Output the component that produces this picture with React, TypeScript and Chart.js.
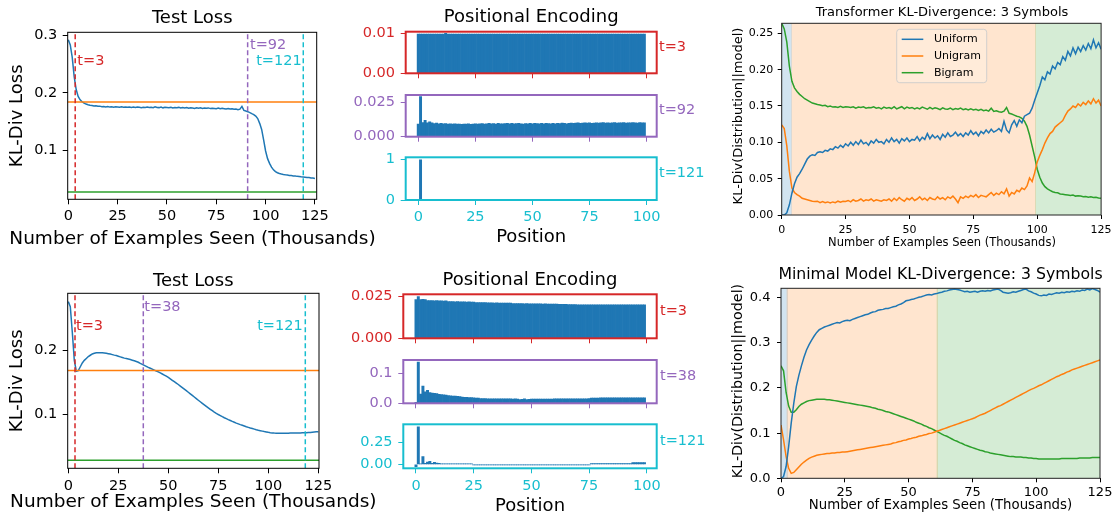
import React, { useEffect, useRef } from "react";
import { Chart, registerables } from "chart.js";

Chart.register(...registerables);

const W = 1116;
const H = 520;
const FONT = '"DejaVu Sans", "Liberation Sans", sans-serif';
const BLUE = "#1f77b4";
const ORANGE = "#ff7f0e";
const GREEN = "#2ca02c";
const RED = "#d62728";
const PURPLE = "#9467bd";
const CYAN = "#17becf";

// ---------------- data ----------------
const examplesSeen = Array.from({ length: 126 }, (_, i) => i); // thousands
const positions = Array.from({ length: 100 }, (_, i) => i);

const xTicksExamples = [0, 25, 50, 75, 100, 125];
const xLabelsExamples = ["0", "25", "50", "75", "100", "125"];
const xTicksPosition = [0, 25, 50, 75, 100];
const xLabelsPosition = ["0", "25", "50", "75", "100"];

// Transformer test loss (top row)
const testLossTransformer = [
  0.293, 0.284, 0.262, 0.228, 0.206, 0.194, 0.188, 0.1845, 0.182, 0.1805,
  0.1793, 0.1785, 0.178, 0.1772, 0.1775, 0.1766, 0.1769, 0.176, 0.1764, 0.1756,
  0.1761, 0.1752, 0.1758, 0.175, 0.1756, 0.1753, 0.1749, 0.1757, 0.1751, 0.1754,
  0.1748, 0.1755, 0.1747, 0.1752, 0.1745, 0.1754, 0.1749, 0.1742, 0.1751, 0.1746,
  0.1753, 0.1744, 0.175, 0.1741, 0.1758, 0.1746, 0.1743, 0.1752, 0.1739, 0.1748,
  0.1744, 0.174, 0.1749, 0.1736, 0.1745, 0.1741, 0.1747, 0.1735, 0.1744, 0.1738,
  0.1746, 0.1733, 0.1741, 0.1737, 0.173, 0.1742, 0.1734, 0.1739, 0.1728, 0.1736,
  0.1731, 0.1738, 0.1726, 0.1733, 0.1729, 0.1724, 0.1735, 0.1722, 0.173, 0.1725,
  0.1719, 0.1727, 0.1718, 0.1722, 0.1713, 0.1719, 0.1708, 0.1716, 0.1765, 0.1695,
  0.1683, 0.1672, 0.1655, 0.1638, 0.1622, 0.1595, 0.1552, 0.1468, 0.1362, 0.118,
  0.0985, 0.0851, 0.0768, 0.0702, 0.0655, 0.0624, 0.0604, 0.0591, 0.0582, 0.0575,
  0.0569, 0.0565, 0.0558, 0.0556, 0.0549, 0.0547, 0.0541, 0.0539, 0.0533, 0.053,
  0.0527, 0.0522, 0.052, 0.0514, 0.0511, 0.0505,
];
const refLossTransformer = [0.184, 0.0266]; // unigram, bigram
const snapshotXTransformer = [3.5, 90.9, 119.1];
const snapshotLabelsTransformer = ["t=3", "t=92", "t=121"];

// Minimal model test loss (bottom row)
const testLossMinimal = [
  0.276, 0.268, 0.228, 0.184, 0.167, 0.168, 0.174, 0.18, 0.184, 0.187,
  0.19, 0.192, 0.194, 0.195, 0.196, 0.196, 0.196, 0.1958, 0.1955, 0.195,
  0.1945, 0.1938, 0.193, 0.1922, 0.1915, 0.1905, 0.1895, 0.1885, 0.1875, 0.1868,
  0.186, 0.1852, 0.1843, 0.1833, 0.1822, 0.181, 0.1792, 0.1778, 0.1762, 0.1746,
  0.173, 0.1716, 0.1702, 0.1688, 0.1674, 0.1659, 0.1643, 0.1627, 0.161, 0.1592,
  0.1572, 0.155, 0.1528, 0.1506, 0.1484, 0.1462, 0.1438, 0.1414, 0.139, 0.1366,
  0.1341, 0.1316, 0.1291, 0.1266, 0.1241, 0.1216, 0.1192, 0.1168, 0.1144, 0.112,
  0.1097, 0.1074, 0.1052, 0.1031, 0.1011, 0.0992, 0.0975, 0.0958, 0.0942, 0.0927,
  0.0912, 0.0898, 0.0884, 0.0871, 0.0858, 0.0846, 0.0834, 0.0823, 0.0812, 0.0801,
  0.0791, 0.0781, 0.0772, 0.0763, 0.0754, 0.0746, 0.0739, 0.0732, 0.0725, 0.0719,
  0.0713, 0.0708, 0.0704, 0.0701, 0.0699, 0.0698, 0.0698, 0.0698, 0.0699, 0.07,
  0.07, 0.0701, 0.0701, 0.0702, 0.0703, 0.0703, 0.0704, 0.0705, 0.0706, 0.0708,
  0.071, 0.0712, 0.0715, 0.0718, 0.0721, 0.0724,
];
const refLossMinimal = [0.168, 0.0277];
const snapshotXMinimal = [3.35, 37.5, 118.5];
const snapshotLabelsMinimal = ["t=3", "t=38", "t=121"];

// Positional encodings, transformer (top row)
const peTransformerT3 = [
  0.0099, 0.0099, 0.0099, 0.0099, 0.0099, 0.0099, 0.0099, 0.0099, 0.0099, 0.0099,
  0.0099, 0.0099, 0.0101, 0.0099, 0.0099, 0.0099, 0.0099, 0.0099, 0.0099, 0.0099,
  0.0099, 0.0099, 0.0099, 0.0099, 0.0099, 0.0099, 0.0099, 0.0099, 0.0099, 0.0099,
  0.0099, 0.0099, 0.0099, 0.0099, 0.0099, 0.0099, 0.0099, 0.0099, 0.0099, 0.0099,
  0.0099, 0.0099, 0.0099, 0.0099, 0.0099, 0.0099, 0.0099, 0.0099, 0.0099, 0.0099,
  0.0099, 0.0099, 0.0099, 0.0099, 0.0099, 0.0099, 0.0099, 0.0099, 0.0099, 0.0099,
  0.0099, 0.0099, 0.0099, 0.0099, 0.0099, 0.0099, 0.0099, 0.0099, 0.0099, 0.0099,
  0.0099, 0.0099, 0.0099, 0.0099, 0.0099, 0.0099, 0.0099, 0.0099, 0.0099, 0.0099,
  0.0099, 0.0099, 0.0099, 0.0099, 0.0099, 0.0099, 0.0099, 0.0099, 0.0099, 0.0099,
  0.0099, 0.0099, 0.0099, 0.0099, 0.0099, 0.0099, 0.0099, 0.0099, 0.0099, 0.0099,
];
const peTransformerT92 = [
  0.0091, 0.0291, 0.0103, 0.0119, 0.0101, 0.0107, 0.01, 0.0095, 0.0099, 0.0094,
  0.0096, 0.0093, 0.0095, 0.0092, 0.0094, 0.0091, 0.0093, 0.0091, 0.0092, 0.009,
  0.0092, 0.0091, 0.0093, 0.009, 0.0092, 0.0094, 0.0091, 0.0093, 0.0095, 0.0092,
  0.0094, 0.0096, 0.0093, 0.0095, 0.0092, 0.0096, 0.0094, 0.0093, 0.0095, 0.0097,
  0.0094, 0.0096, 0.0093, 0.0095, 0.0097, 0.0094, 0.0092, 0.0095, 0.0093, 0.0096,
  0.0094, 0.0096, 0.0095, 0.0093, 0.0096, 0.0094, 0.0097, 0.0095, 0.0093, 0.0096,
  0.0094, 0.0097, 0.0095, 0.0098, 0.0096, 0.0094, 0.0097, 0.0099, 0.0096, 0.0098,
  0.01, 0.0097, 0.0099, 0.0101, 0.0098, 0.01, 0.0097, 0.0099, 0.0101, 0.0098,
  0.01, 0.0102, 0.0099, 0.0101, 0.0098, 0.01, 0.0102, 0.0099, 0.0101, 0.01,
  0.0102, 0.0099, 0.0101, 0.01, 0.0103, 0.0101, 0.0099, 0.0102, 0.01, 0.0101,
];
const peTransformerT121 = [
  0.0003, 0.995, 0.0004, 0.0003, 0.0003, 0.0003, 0.0003, 0.0003, 0.0003, 0.0003,
  0.0003, 0.0003, 0.0003, 0.0003, 0.0003, 0.0003, 0.0003, 0.0003, 0.0003, 0.0003,
  0.0003, 0.0003, 0.0003, 0.0003, 0.0003, 0.0003, 0.0003, 0.0003, 0.0003, 0.0003,
  0.0003, 0.0003, 0.0003, 0.0003, 0.0003, 0.0003, 0.0003, 0.0003, 0.0003, 0.0003,
  0.0003, 0.0003, 0.0003, 0.0003, 0.0003, 0.0003, 0.0003, 0.0003, 0.0003, 0.0003,
  0.0003, 0.0003, 0.0003, 0.0003, 0.0003, 0.0003, 0.0003, 0.0003, 0.0003, 0.0003,
  0.0003, 0.0003, 0.0003, 0.0003, 0.0003, 0.0003, 0.0003, 0.0003, 0.0003, 0.0003,
  0.0003, 0.0003, 0.0003, 0.0003, 0.0003, 0.0003, 0.0003, 0.0003, 0.0003, 0.0003,
  0.0003, 0.0003, 0.0003, 0.0003, 0.0003, 0.0003, 0.0003, 0.0003, 0.0003, 0.0003,
  0.0003, 0.0003, 0.0003, 0.0003, 0.0003, 0.0003, 0.0003, 0.0003, 0.0003, 0.0003,
];

// Positional encodings, minimal model (bottom row)
const peMinimalT3 = [
  0.023, 0.0248, 0.0231, 0.0232, 0.023, 0.0225, 0.0224, 0.0224, 0.0223, 0.0224,
  0.0223, 0.0223, 0.0222, 0.0223, 0.0219, 0.0218, 0.0218, 0.0217, 0.0218, 0.0217,
  0.0217, 0.0217, 0.0216, 0.0217, 0.0216, 0.0216, 0.0213, 0.0212, 0.0212, 0.0212,
  0.0212, 0.0211, 0.0211, 0.0211, 0.021, 0.0211, 0.021, 0.021, 0.021, 0.021,
  0.0209, 0.0209, 0.0207, 0.0206, 0.0206, 0.0206, 0.0206, 0.0205, 0.0206, 0.0205,
  0.0205, 0.0205, 0.0205, 0.0205, 0.0205, 0.0204, 0.0205, 0.0204, 0.0204, 0.0204,
  0.0204, 0.0204, 0.0203, 0.0203, 0.0203, 0.0203, 0.0201, 0.0201, 0.0201, 0.0201,
  0.02, 0.02, 0.02, 0.02, 0.02, 0.02, 0.02, 0.02, 0.02, 0.02,
  0.02, 0.02, 0.02, 0.02, 0.02, 0.02, 0.02, 0.02, 0.02, 0.02,
  0.02, 0.02, 0.02, 0.02, 0.02, 0.02, 0.02, 0.02, 0.02, 0.02,
];
const peMinimalT38 = [
  0.003, 0.137, 0.031, 0.057, 0.038, 0.043, 0.036, 0.034, 0.033, 0.032,
  0.03, 0.029, 0.028, 0.027, 0.026, 0.025, 0.024, 0.024, 0.023, 0.022,
  0.021, 0.02, 0.02, 0.019, 0.019, 0.018, 0.017, 0.017, 0.016, 0.016,
  0.016, 0.015, 0.015, 0.015, 0.015, 0.015, 0.015, 0.015, 0.015, 0.015,
  0.015, 0.015, 0.014, 0.015, 0.014, 0.012, 0.013, 0.015, 0.012, 0.013,
  0.014, 0.014, 0.014, 0.014, 0.014, 0.014, 0.014, 0.014, 0.014, 0.014,
  0.015, 0.015, 0.015, 0.015, 0.015, 0.015, 0.015, 0.015, 0.015, 0.015,
  0.015, 0.015, 0.015, 0.015, 0.015, 0.016, 0.017, 0.017, 0.017, 0.017,
  0.018, 0.018, 0.018, 0.018, 0.018, 0.018, 0.018, 0.018, 0.018, 0.018,
  0.018, 0.018, 0.018, 0.018, 0.018, 0.018, 0.018, 0.018, 0.018, 0.018,
];
const peMinimalT121 = [
  -0.027, 0.427, 0.006, 0.088, 0.012, 0.025, 0.035, 0.012, 0.024, 0.014,
  0.011, 0.004, 0.004, 0.004, 0.004, 0.004, 0.004, 0.004, 0.004, 0.004,
  0.004, 0.004, 0.004, 0.004, 0.004, -0.006, -0.006, -0.006, -0.006, -0.006,
  -0.006, -0.006, -0.006, -0.006, -0.006, -0.006, -0.006, -0.006, -0.006, -0.006,
  -0.006, -0.006, -0.006, -0.006, -0.006, -0.006, -0.006, -0.006, -0.006, -0.006,
  -0.006, -0.006, -0.006, -0.006, -0.006, -0.006, -0.006, -0.006, -0.006, -0.006,
  -0.006, -0.006, -0.006, -0.006, -0.006, -0.006, -0.006, -0.006, -0.006, -0.006,
  -0.006, -0.006, -0.006, -0.006, -0.006, -0.006, 0.01, 0.01, 0.01, 0.01,
  0.01, 0.01, 0.01, 0.01, 0.01, 0.01, 0.01, 0.01, 0.01, 0.01,
  0.01, 0.01, 0.01, 0.01, 0.02, 0.02, 0.02, 0.02, 0.02, 0.02,
];

// KL divergences, transformer (top right)
const uniformTransformer = [
  0.0, 0.0, 0.003, 0.014, 0.03, 0.043, 0.052, 0.057, 0.063, 0.07,
  0.077, 0.081, 0.083, 0.082, 0.086, 0.087, 0.086, 0.089, 0.088, 0.091,
  0.09, 0.094, 0.092, 0.096, 0.093, 0.098, 0.095, 0.1, 0.096, 0.101,
  0.097, 0.103, 0.098, 0.1, 0.096, 0.102, 0.099, 0.104, 0.1, 0.101,
  0.098, 0.104, 0.1, 0.106, 0.101, 0.104, 0.099, 0.105, 0.102, 0.106,
  0.101, 0.104, 0.103, 0.108, 0.102, 0.107, 0.104, 0.112, 0.105, 0.11,
  0.106, 0.109, 0.104, 0.111, 0.107, 0.113, 0.108, 0.11, 0.114, 0.109,
  0.112, 0.108, 0.113, 0.11, 0.116, 0.111, 0.114, 0.109, 0.115, 0.112,
  0.117, 0.113, 0.118, 0.114, 0.116, 0.119, 0.115, 0.129, 0.117, 0.113,
  0.124, 0.13, 0.122, 0.131, 0.127, 0.136, 0.138, 0.14, 0.147, 0.158,
  0.168, 0.178, 0.19, 0.186, 0.197, 0.194, 0.205, 0.201, 0.21, 0.207,
  0.218, 0.213, 0.225, 0.219, 0.23, 0.222, 0.231, 0.225, 0.233, 0.227,
  0.236, 0.229, 0.241, 0.23, 0.237, 0.228,
];
const unigramTransformer = [
  0.124, 0.119, 0.095, 0.06, 0.037, 0.031, 0.028, 0.026, 0.023, 0.022,
  0.021, 0.02, 0.019, 0.0185, 0.019, 0.017, 0.0185, 0.017, 0.018, 0.0165,
  0.018, 0.017, 0.019, 0.0175, 0.019, 0.0185, 0.02, 0.018, 0.021, 0.019,
  0.02, 0.022, 0.019, 0.021, 0.02, 0.022, 0.019, 0.021, 0.02, 0.019,
  0.021, 0.02, 0.022, 0.019, 0.023, 0.02, 0.024, 0.021, 0.019, 0.023,
  0.021, 0.024, 0.02, 0.022, 0.025, 0.021, 0.023, 0.02, 0.024, 0.022,
  0.021, 0.025, 0.022, 0.024, 0.021, 0.025, 0.023, 0.026, 0.022, 0.017,
  0.025, 0.023, 0.026, 0.024, 0.027, 0.025, 0.028, 0.024, 0.027, 0.026,
  0.025, 0.028, 0.031, 0.027, 0.03, 0.028, 0.032, 0.029, 0.036, 0.026,
  0.031, 0.029, 0.034, 0.032, 0.037, 0.035, 0.04, 0.051, 0.046, 0.058,
  0.073, 0.082, 0.09, 0.099, 0.106, 0.112, 0.115, 0.121, 0.124, 0.127,
  0.13, 0.137, 0.143, 0.146, 0.15, 0.148, 0.153, 0.15, 0.155, 0.152,
  0.157, 0.153, 0.16, 0.154, 0.158, 0.15,
];
const bigramTransformer = [
  0.264, 0.256, 0.238, 0.205, 0.184, 0.175, 0.17, 0.166, 0.163, 0.16,
  0.158, 0.156, 0.154, 0.153, 0.152, 0.1515, 0.1505, 0.151, 0.149, 0.15,
  0.1485, 0.149, 0.148, 0.1495, 0.148, 0.149, 0.1485, 0.148, 0.149, 0.147,
  0.1485, 0.148, 0.149, 0.147, 0.148, 0.1475, 0.149, 0.147, 0.148, 0.146,
  0.1485, 0.147, 0.148, 0.1465, 0.149, 0.146, 0.1475, 0.149, 0.146, 0.1485,
  0.147, 0.148, 0.146, 0.1475, 0.146, 0.1485, 0.147, 0.1455, 0.148, 0.146,
  0.1475, 0.1465, 0.145, 0.1475, 0.146, 0.1455, 0.147, 0.145, 0.1465, 0.1455,
  0.147, 0.145, 0.146, 0.1445, 0.146, 0.1445, 0.1455, 0.144, 0.1455, 0.1435,
  0.1445, 0.143, 0.147, 0.1425, 0.1435, 0.142, 0.1415, 0.143, 0.148, 0.14,
  0.139, 0.1375, 0.136, 0.135, 0.133, 0.129, 0.122, 0.11, 0.095, 0.08,
  0.063, 0.052, 0.044, 0.039, 0.036, 0.034, 0.032, 0.031, 0.0305, 0.029,
  0.0285, 0.028, 0.0275, 0.027, 0.0275, 0.026, 0.0265, 0.026, 0.025, 0.0255,
  0.0245, 0.025, 0.024, 0.0245, 0.0235, 0.023,
];
const stagesTransformer = [
  [0, 4.0],
  [3.8, 99.5],
  [99.2, 125],
];

// KL divergences, minimal model (bottom right)
const uniformMinimal = [
  0.0, 0.004, 0.026, 0.07, 0.122, 0.166, 0.203, 0.228, 0.249, 0.268,
  0.284, 0.296, 0.306, 0.315, 0.323, 0.329, 0.332, 0.335, 0.337, 0.339,
  0.341, 0.343, 0.345, 0.344, 0.347, 0.349, 0.35, 0.349, 0.352, 0.354,
  0.356, 0.358, 0.36, 0.362, 0.363, 0.366, 0.368, 0.369, 0.372, 0.373,
  0.374, 0.376, 0.376, 0.378, 0.38, 0.381, 0.384, 0.386, 0.389, 0.393,
  0.394, 0.396, 0.397, 0.399, 0.401, 0.402, 0.404, 0.406, 0.407, 0.406,
  0.408, 0.409, 0.411, 0.412, 0.414, 0.415, 0.417, 0.418, 0.419, 0.418,
  0.417, 0.415, 0.413, 0.414, 0.412, 0.413, 0.414, 0.412, 0.414, 0.415,
  0.414, 0.416, 0.415, 0.417, 0.418, 0.419, 0.416, 0.412, 0.411, 0.41,
  0.411, 0.413, 0.412, 0.414, 0.416, 0.418, 0.419, 0.415, 0.413, 0.41,
  0.408, 0.405, 0.404, 0.406, 0.405, 0.408, 0.407, 0.409, 0.411, 0.41,
  0.412, 0.411, 0.413, 0.412, 0.414, 0.413, 0.415, 0.414, 0.417, 0.416,
  0.419, 0.417, 0.42, 0.418, 0.416, 0.412,
];
const unigramMinimal = [
  0.118, 0.085, 0.048, 0.022, 0.011, 0.013, 0.019, 0.025, 0.031, 0.036,
  0.04, 0.044, 0.047, 0.049, 0.051, 0.052, 0.053, 0.054, 0.055, 0.055,
  0.056, 0.056, 0.057, 0.057, 0.058, 0.058, 0.059, 0.06, 0.061, 0.062,
  0.063, 0.064, 0.065, 0.066, 0.067, 0.068, 0.069, 0.07, 0.071, 0.072,
  0.073, 0.074, 0.075, 0.076, 0.078, 0.079, 0.081, 0.082, 0.084, 0.085,
  0.087, 0.088, 0.09, 0.091, 0.093, 0.094, 0.096, 0.097, 0.099, 0.1,
  0.102, 0.104, 0.106, 0.108, 0.11, 0.112, 0.114, 0.116, 0.118, 0.12,
  0.122, 0.124, 0.126, 0.128, 0.13, 0.132, 0.134, 0.137, 0.14, 0.142,
  0.144, 0.147, 0.15, 0.153, 0.156, 0.159, 0.161, 0.164, 0.167, 0.17,
  0.173, 0.176, 0.179, 0.182, 0.185, 0.188, 0.191, 0.194, 0.197, 0.199,
  0.202, 0.205, 0.207, 0.21, 0.213, 0.216, 0.219, 0.222, 0.225, 0.227,
  0.23, 0.232, 0.235, 0.237, 0.24, 0.242, 0.244, 0.246, 0.248, 0.25,
  0.252, 0.254, 0.256, 0.258, 0.26, 0.262,
];
const bigramMinimal = [
  0.249, 0.238, 0.19, 0.16, 0.146, 0.146, 0.152, 0.159, 0.164, 0.167,
  0.17, 0.172, 0.173, 0.174, 0.175, 0.175, 0.175, 0.175, 0.174, 0.174,
  0.173, 0.172, 0.171, 0.17, 0.169, 0.168, 0.167, 0.166, 0.165, 0.164,
  0.163, 0.162, 0.161, 0.16, 0.159, 0.158, 0.156, 0.155, 0.153, 0.152,
  0.15, 0.148, 0.147, 0.145, 0.143, 0.141, 0.139, 0.137, 0.135, 0.133,
  0.131, 0.129, 0.127, 0.124, 0.122, 0.12, 0.117, 0.115, 0.112, 0.11,
  0.107, 0.104, 0.101, 0.098, 0.095, 0.093, 0.09, 0.087, 0.084, 0.082,
  0.079, 0.077, 0.074, 0.072, 0.07, 0.068, 0.066, 0.064, 0.062, 0.061,
  0.059, 0.058, 0.056, 0.055, 0.054, 0.053, 0.052, 0.051, 0.05, 0.049,
  0.048, 0.048, 0.047, 0.047, 0.047, 0.046, 0.046, 0.045, 0.045, 0.044,
  0.044, 0.043, 0.043, 0.043, 0.043, 0.043, 0.043, 0.043, 0.043, 0.043,
  0.044, 0.044, 0.044, 0.044, 0.044, 0.044, 0.044, 0.045, 0.045, 0.045,
  0.045, 0.045, 0.046, 0.046, 0.046, 0.046,
];
const stagesMinimal = [
  [0, 2.7],
  [2.2, 61.5],
  [61.0, 125],
];

const seriesNames = ["Uniform", "Unigram", "Bigram"];

// ---------------- helpers ----------------
type Area = { x0: number; y0: number; x1: number; y1: number };
type TextItem = {
  text: string;
  x: number;
  y: number;
  size: number;
  color?: string;
  align?: CanvasTextAlign;
  rot?: boolean;
};

const Y_AXIS_BOX = 62; // room reserved for y tick labels (left of plot)
const X_AXIS_BOX = 34; // room reserved for x tick labels (below plot)

function framePlugin(color: string, width: number) {
  return {
    id: "frame",
    afterDatasetsDraw(chart: any) {
      const a = chart.chartArea;
      const ctx = chart.ctx;
      ctx.save();
      ctx.strokeStyle = color;
      ctx.lineWidth = width;
      ctx.strokeRect(a.left, a.top, a.right - a.left, a.bottom - a.top);
      ctx.restore();
    },
  };
}

function textPlugin(items: TextItem[]) {
  return {
    id: "texts",
    afterDraw(chart: any) {
      const ctx = chart.ctx;
      for (const it of items) {
        ctx.save();
        ctx.font = `${it.size}px ${FONT}`;
        ctx.fillStyle = it.color || "#000";
        ctx.textAlign = it.align || "center";
        ctx.textBaseline = "middle";
        ctx.translate(it.x, it.y);
        if (it.rot) ctx.rotate(-Math.PI / 2);
        ctx.fillText(it.text, 0, 0);
        ctx.restore();
      }
    },
  };
}

function spansPlugin(stages: number[][], colors: string[]) {
  return {
    id: "spans",
    beforeDatasetsDraw(chart: any) {
      const a = chart.chartArea;
      const xs = chart.scales.x;
      const ctx = chart.ctx;
      ctx.save();
      stages.forEach((s, i) => {
        const p0 = xs.getPixelForValue(s[0]);
        const p1 = xs.getPixelForValue(s[1]);
        ctx.fillStyle = colors[i];
        ctx.fillRect(p0, a.top, p1 - p0, a.bottom - a.top);
      });
      ctx.restore();
    },
  };
}

function legendPlugin(box: { x: number; y: number; w: number; h: number }, names: string[], colors: string[], rowsY: number[], size: number) {
  return {
    id: "boxLegend",
    afterDraw(chart: any) {
      const ctx = chart.ctx;
      ctx.save();
      ctx.beginPath();
      const r = 3;
      const { x, y, w, h } = box;
      ctx.moveTo(x + r, y);
      ctx.arcTo(x + w, y, x + w, y + h, r);
      ctx.arcTo(x + w, y + h, x, y + h, r);
      ctx.arcTo(x, y + h, x, y, r);
      ctx.arcTo(x, y, x + w, y, r);
      ctx.closePath();
      ctx.fillStyle = "rgba(255,255,255,0.2)";
      ctx.fill();
      ctx.strokeStyle = "rgba(204,204,204,0.9)";
      ctx.lineWidth = 1;
      ctx.stroke();
      names.forEach((n, i) => {
        ctx.strokeStyle = colors[i];
        ctx.lineWidth = 1.5;
        ctx.beginPath();
        ctx.moveTo(x + 5, rowsY[i]);
        ctx.lineTo(x + 26.6, rowsY[i]);
        ctx.stroke();
        ctx.fillStyle = "#000";
        ctx.font = `${size}px ${FONT}`;
        ctx.textAlign = "left";
        ctx.textBaseline = "middle";
        ctx.fillText(n, x + 37.3, rowsY[i]);
      });
      ctx.restore();
    },
  };
}

type AxisStyle = { font: number; color: string; pad: number; tickLen: number; tickColor: string; hideLabels?: boolean };

function scaleOpts(axis: "x" | "y", min: number, max: number, ticks: number[], labels: string[], s: AxisStyle) {
  return {
    type: "linear",
    min,
    max,
    offset: false,
    afterFit: (sc: any) => {
      if (axis === "x") sc.height = X_AXIS_BOX;
      else sc.width = Y_AXIS_BOX;
    },
    afterBuildTicks: (sc: any) => {
      sc.ticks = ticks.map((v) => ({ value: v }));
    },
    ticks: {
      autoSkip: false,
      maxRotation: 0,
      minRotation: 0,
      padding: s.pad,
      color: s.color,
      font: { family: FONT, size: s.font },
      callback: (_v: any, i: number) => (s.hideLabels ? "" : labels[i]),
    },
    grid: {
      display: true,
      drawOnChartArea: false,
      drawTicks: true,
      tickLength: s.tickLen,
      tickColor: s.tickColor,
      tickWidth: 1,
      offset: false,
    },
    border: { display: false },
  };
}

function baseOptions(area: Area, x: any, y: any) {
  return {
    responsive: false,
    maintainAspectRatio: false,
    animation: false,
    events: [],
    layout: {
      padding: {
        left: area.x0 - Y_AXIS_BOX,
        top: area.y0,
        right: W - area.x1,
        bottom: H - area.y1 - X_AXIS_BOX,
      },
      autoPadding: false,
    },
    plugins: { legend: { display: false }, tooltip: { enabled: false }, title: { display: false } },
    scales: { x, y },
  };
}

const pts = (xs: number[], ys: number[]) => xs.map((x, i) => ({ x, y: ys[i] }));
const lineDs = (data: any[], color: string, extra: any = {}) => ({
  data,
  borderColor: color,
  backgroundColor: color,
  borderWidth: 1.5,
  pointRadius: 0,
  pointHoverRadius: 0,
  fill: false,
  tension: 0,
  ...extra,
});

// ---------------- chart factories ----------------
function testLossChart(p: {
  area: Area;
  xMin: number;
  xMax: number;
  yMin: number;
  yMax: number;
  yTicks: number[];
  yLabels: string[];
  loss: number[];
  refs: number[];
  snapX: number[];
  xPad: number;
  texts: TextItem[];
}) {
  const snapColors = [RED, PURPLE, CYAN];
  const datasets: any[] = [];
  p.snapX.forEach((sx, i) =>
    datasets.push(lineDs([{ x: sx, y: p.yMin }, { x: sx, y: p.yMax }], snapColors[i], { borderDash: [5, 3] }))
  );
  datasets.push(lineDs([{ x: p.xMin, y: p.refs[0] }, { x: p.xMax, y: p.refs[0] }], ORANGE));
  datasets.push(lineDs([{ x: p.xMin, y: p.refs[1] }, { x: p.xMax, y: p.refs[1] }], GREEN));
  datasets.push(lineDs(pts(examplesSeen, p.loss), BLUE));
  const ax: AxisStyle = { font: 14.5, color: "#000", pad: p.xPad, tickLen: 5, tickColor: "#000" };
  return {
    type: "line",
    data: { datasets },
    options: baseOptions(
      p.area,
      scaleOpts("x", p.xMin, p.xMax, xTicksExamples, xLabelsExamples, ax),
      scaleOpts("y", p.yMin, p.yMax, p.yTicks, p.yLabels, { ...ax, pad: 5.5 })
    ),
    plugins: [framePlugin("#000", 1), textPlugin(p.texts)],
  };
}

function peChart(p: {
  area: Area;
  xMin: number;
  xMax: number;
  yMin: number;
  yMax: number;
  yTicks: number[];
  yLabels: string[];
  values: number[];
  color: string;
  showX: boolean;
  xPad: number;
  texts: TextItem[];
}) {
  const ax: AxisStyle = { font: 14.5, color: p.color, pad: p.xPad, tickLen: 5, tickColor: p.color, hideLabels: !p.showX };
  return {
    type: "bar",
    data: {
      datasets: [
        {
          data: pts(positions, p.values),
          backgroundColor: BLUE,
          borderWidth: 0,
          barPercentage: 1,
          categoryPercentage: 1,
        },
      ],
    },
    options: baseOptions(
      p.area,
      scaleOpts("x", p.xMin, p.xMax, xTicksPosition, xLabelsPosition, ax),
      scaleOpts("y", p.yMin, p.yMax, p.yTicks, p.yLabels, { ...ax, pad: 5.7, hideLabels: false })
    ),
    plugins: [framePlugin(p.color, 2), textPlugin(p.texts)],
  };
}

function klChart(p: {
  area: Area;
  yMax: number;
  yTicks: number[];
  yLabels: string[];
  series: number[][];
  stages: number[][];
  font: number;
  xPad: number;
  yPad: number;
  texts: TextItem[];
  legend?: any;
}) {
  const colors = [BLUE, ORANGE, GREEN];
  const ax: AxisStyle = { font: p.font, color: "#000", pad: p.xPad, tickLen: 4, tickColor: "#000" };
  const plugins: any[] = [
    spansPlugin(p.stages, ["rgba(31,119,180,0.2)", "rgba(255,127,14,0.2)", "rgba(44,160,44,0.2)"]),
    framePlugin("#222", 1),
    textPlugin(p.texts),
  ];
  if (p.legend) plugins.push(p.legend);
  return {
    type: "line",
    data: { datasets: p.series.map((s, i) => lineDs(pts(examplesSeen, s), colors[i])) },
    options: baseOptions(
      p.area,
      scaleOpts("x", 0, 125, xTicksExamples, xLabelsExamples, ax),
      scaleOpts("y", 0, p.yMax, p.yTicks, p.yLabels, { ...ax, pad: p.yPad })
    ),
    plugins,
  };
}

const XLABEL = "Number of Examples Seen (Thousands)";

const FACTORIES: (() => any)[] = [
  // ---- top row ----
  () =>
    testLossChart({
      area: { x0: 67.7, y0: 32.3, x1: 316.7, y1: 199.3 },
      xMin: -0.3,
      xMax: 125.9,
      yMin: 0.014,
      yMax: 0.306,
      yTicks: [0.1, 0.2, 0.3],
      yLabels: ["0.1", "0.2", "0.3"],
      loss: testLossTransformer,
      refs: refLossTransformer,
      snapX: snapshotXTransformer,
      xPad: 3.3,
      texts: [
        { text: "Test Loss", x: 192.2, y: 18, size: 18 },
        { text: "KL-Div Loss", x: 17, y: 115.8, size: 18, rot: true },
        { text: XLABEL, x: 192.5, y: 238.7, size: 18.5 },
        { text: snapshotLabelsTransformer[0], x: 77.3, y: 61.6, size: 14.5, color: RED, align: "left" },
        { text: snapshotLabelsTransformer[1], x: 250, y: 44.9, size: 14.5, color: PURPLE, align: "left" },
        { text: snapshotLabelsTransformer[2], x: 301.7, y: 61.6, size: 14.5, color: CYAN, align: "right" },
      ],
    }),
  () =>
    peChart({
      area: { x0: 405.7, y0: 31.7, x1: 656.7, y1: 73.3 },
      xMin: -5.5,
      xMax: 104.4,
      yMin: 0,
      yMax: 0.0105,
      yTicks: [0, 0.01],
      yLabels: ["0.00", "0.01"],
      values: peTransformerT3,
      color: RED,
      showX: false,
      xPad: 3.6,
      texts: [
        { text: "Positional Encoding", x: 531.2, y: 17.7, size: 18 },
        { text: snapshotLabelsTransformer[0], x: 659, y: 47.6, size: 14.5, color: RED, align: "left" },
      ],
    }),
  () =>
    peChart({
      area: { x0: 405.7, y0: 95, x1: 656.7, y1: 136.7 },
      xMin: -5.5,
      xMax: 104.4,
      yMin: 0,
      yMax: 0.0302,
      yTicks: [0, 0.025],
      yLabels: ["0.000", "0.025"],
      values: peTransformerT92,
      color: PURPLE,
      showX: false,
      xPad: 3.6,
      texts: [{ text: snapshotLabelsTransformer[1], x: 659, y: 110, size: 14.5, color: PURPLE, align: "left" }],
    }),
  () =>
    peChart({
      area: { x0: 405.7, y0: 157.3, x1: 656.7, y1: 200 },
      xMin: -5.5,
      xMax: 104.4,
      yMin: 0,
      yMax: 1.06,
      yTicks: [0, 1],
      yLabels: ["0", "1"],
      values: peTransformerT121,
      color: CYAN,
      showX: true,
      xPad: 3.6,
      texts: [
        { text: snapshotLabelsTransformer[2], x: 659, y: 173.2, size: 14.5, color: CYAN, align: "left" },
        { text: "Position", x: 531.2, y: 237, size: 18 },
      ],
    }),
  () =>
    klChart({
      area: { x0: 781.7, y0: 23.3, x1: 1102.3, y1: 215 },
      yMax: 0.2638,
      yTicks: [0, 0.05, 0.1, 0.15, 0.2, 0.25],
      yLabels: ["0.00", "0.05", "0.10", "0.15", "0.20", "0.25"],
      series: [uniformTransformer, unigramTransformer, bigramTransformer],
      stages: stagesTransformer,
      font: 11,
      xPad: 4.4,
      yPad: 4.4,
      texts: [
        { text: "Transformer KL-Divergence: 3 Symbols", x: 942, y: 12.8, size: 13 },
        { text: XLABEL, x: 942, y: 242.7, size: 11.5 },
        { text: "KL-Div(Distribution||model)", x: 738.3, y: 116, size: 13, rot: true },
      ],
      legend: legendPlugin({ x: 896.7, y: 29.3, w: 90, h: 53.4 }, seriesNames, [BLUE, ORANGE, GREEN], [39.3, 56, 72.7], 11),
    }),
  // ---- bottom row ----
  () =>
    testLossChart({
      area: { x0: 67.7, y0: 293.3, x1: 319, y1: 468.3 },
      xMin: -0.3,
      xMax: 125.35,
      yMin: 0.015,
      yMax: 0.289,
      yTicks: [0.1, 0.2],
      yLabels: ["0.1", "0.2"],
      loss: testLossMinimal,
      refs: refLossMinimal,
      snapX: snapshotXMinimal,
      xPad: 4,
      texts: [
        { text: "Test Loss", x: 193.3, y: 281.4, size: 18 },
        { text: "KL-Div Loss", x: 17, y: 380.8, size: 18, rot: true },
        { text: XLABEL, x: 193.3, y: 502.5, size: 18.5 },
        { text: snapshotLabelsMinimal[0], x: 76, y: 326.6, size: 14.5, color: RED, align: "left" },
        { text: snapshotLabelsMinimal[1], x: 144.3, y: 307.6, size: 14.5, color: PURPLE, align: "left" },
        { text: snapshotLabelsMinimal[2], x: 302.7, y: 326.6, size: 14.5, color: CYAN, align: "right" },
      ],
    }),
  () =>
    peChart({
      area: { x0: 403.3, y0: 294.3, x1: 656.7, y1: 338.3 },
      xMin: -5.5,
      xMax: 104.3,
      yMin: 0,
      yMax: 0.0262,
      yTicks: [0, 0.025],
      yLabels: ["0.000", "0.025"],
      values: peMinimalT3,
      color: RED,
      showX: false,
      xPad: 4.7,
      texts: [
        { text: "Positional Encoding", x: 530, y: 280.4, size: 18 },
        { text: snapshotLabelsMinimal[0], x: 660, y: 311, size: 14.5, color: RED, align: "left" },
      ],
    }),
  () =>
    peChart({
      area: { x0: 403.3, y0: 360, x1: 656.7, y1: 403.3 },
      xMin: -5.5,
      xMax: 104.3,
      yMin: 0,
      yMax: 0.144,
      yTicks: [0, 0.1],
      yLabels: ["0.0", "0.1"],
      values: peMinimalT38,
      color: PURPLE,
      showX: false,
      xPad: 4.7,
      texts: [{ text: snapshotLabelsMinimal[1], x: 660, y: 376.6, size: 14.5, color: PURPLE, align: "left" }],
    }),
  () =>
    peChart({
      area: { x0: 403.3, y0: 424.3, x1: 656.7, y1: 468.3 },
      xMin: -5.5,
      xMax: 104.3,
      yMin: -0.045,
      yMax: 0.4545,
      yTicks: [0, 0.25],
      yLabels: ["0.00", "0.25"],
      values: peMinimalT121,
      color: CYAN,
      showX: true,
      xPad: 4.7,
      texts: [
        { text: snapshotLabelsMinimal[2], x: 660, y: 441.6, size: 14.5, color: CYAN, align: "left" },
        { text: "Position", x: 530, y: 506, size: 18 },
      ],
    }),
  () =>
    klChart({
      area: { x0: 781, y0: 288.3, x1: 1100, y1: 478.3 },
      yMax: 0.4207,
      yTicks: [0, 0.1, 0.2, 0.3, 0.4],
      yLabels: ["0.0", "0.1", "0.2", "0.3", "0.4"],
      series: [uniformMinimal, unigramMinimal, bigramMinimal],
      stages: stagesMinimal,
      font: 13,
      xPad: 3,
      yPad: 6.5,
      texts: [
        { text: "Minimal Model KL-Divergence: 3 Symbols", x: 940.5, y: 275.2, size: 15.7 },
        { text: XLABEL, x: 940.5, y: 506, size: 13.3 },
        { text: "KL-Div(Distribution||model)", x: 738.3, y: 381, size: 14.3, rot: true },
      ],
    }),
];

function ChartCanvas({ make }: { make: () => any }) {
  const ref = useRef<HTMLCanvasElement | null>(null);
  useEffect(() => {
    const chart = new Chart(ref.current as HTMLCanvasElement, make());
    return () => chart.destroy();
  }, [make]);
  return (
    <canvas
      ref={ref}
      width={W}
      height={H}
      style={{ position: "absolute", left: 0, top: 0, width: W, height: H }}
    />
  );
}

export default function App() {
  return (
    <div style={{ position: "absolute", left: 0, top: 0, width: W, height: H, background: "#fff", overflow: "hidden" }}>
      {FACTORIES.map((f, i) => (
        <ChartCanvas key={i} make={f} />
      ))}
    </div>
  );
}
